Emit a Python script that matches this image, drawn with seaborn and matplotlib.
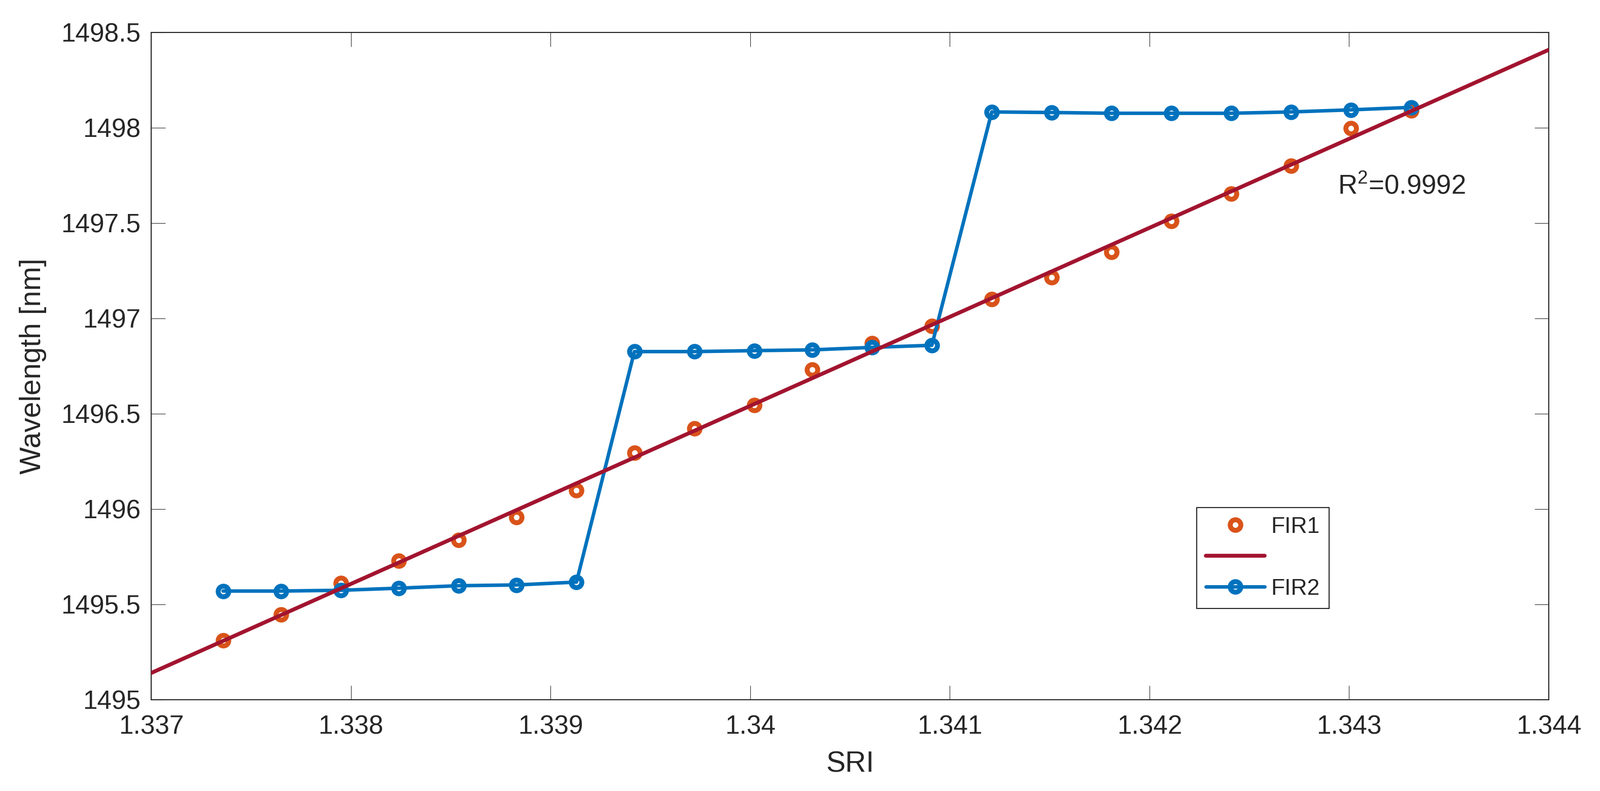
import numpy as np
import pandas as pd
import seaborn as sns
import matplotlib.pyplot as plt
from matplotlib.ticker import FormatStrFormatter, MultipleLocator

# values
sri = [1.33736, 1.33765, 1.33795, 1.33824, 1.33854, 1.33883, 1.33913,
       1.33942, 1.33972, 1.34002, 1.34031, 1.34061, 1.34091, 1.34121,
       1.34151, 1.34181, 1.34211, 1.34241, 1.34271, 1.34301, 1.34331]
fir1 = [1495.310, 1495.446, 1495.612, 1495.729, 1495.838, 1495.957, 1496.098,
        1496.294, 1496.423, 1496.544, 1496.731, 1496.869, 1496.959, 1497.101,
        1497.215, 1497.349, 1497.511, 1497.653, 1497.801, 1497.996, 1498.091]
fir2 = [1495.570, 1495.570, 1495.574, 1495.585, 1495.598, 1495.602, 1495.617,
        1496.826, 1496.826, 1496.831, 1496.835, 1496.848, 1496.859, 1498.083,
        1498.080, 1498.076, 1498.076, 1498.076, 1498.083, 1498.094, 1498.107]
r2_label = 'R$^2$=0.9992'

orange = '#D95319'
blue = '#0072BD'
red = '#A2142F'
ink = '#262626'

sns.set_style('ticks')
plt.rcParams['font.family'] = ['Liberation Sans', 'DejaVu Sans']
plt.rcParams['mathtext.fontset'] = 'custom'
plt.rcParams['mathtext.rm'] = 'Liberation Sans'
plt.rcParams['mathtext.it'] = 'Liberation Sans:italic'

df = pd.DataFrame({'SRI': sri, 'FIR1': fir1, 'FIR2': fir2})

fig = plt.figure(figsize=(31.54, 15.6), dpi=100)
ax = fig.add_axes([0.0945, 0.1154, 0.8735, 0.8436])
ax.set_xlim(1.337, 1.344)
ax.set_ylim(1495, 1498.5)

sns.lineplot(data=df, x='SRI', y='FIR1', ax=ax, color=orange, linestyle='none',
             marker='o', markersize=15, markerfacecolor='none',
             markeredgecolor=orange, markeredgewidth=7, zorder=2)
sns.lineplot(data=df, x='SRI', y='FIR2', ax=ax, color=blue, linewidth=5,
             marker='o', markersize=15, markerfacecolor='none',
             markeredgecolor=blue, markeredgewidth=7, zorder=3)
# linear fit of FIR1, stretched over the whole x range
sns.regplot(data=df, x='SRI', y='FIR1', ax=ax, scatter=False, ci=None,
            truncate=False, line_kws=dict(color=red, linewidth=5.5, zorder=4))

ax.set_xlim(1.337, 1.344)
ax.set_ylim(1495, 1498.5)
ax.xaxis.set_major_locator(MultipleLocator(0.001))
ax.yaxis.set_major_locator(MultipleLocator(0.5))
ax.xaxis.set_major_formatter(FormatStrFormatter('%g'))
ax.yaxis.set_major_formatter(FormatStrFormatter('%g'))
ax.tick_params(direction='in', length=20, width=0.8, color=ink, labelcolor=ink,
               labelsize=37, top=True, right=True)
ax.tick_params(axis='x', pad=21)
ax.tick_params(axis='y', pad=15)
for sp in ax.spines.values():
    sp.set_linewidth(1.5)
    sp.set_color(ink)

ax.set_xlabel('SRI', fontsize=41, color=ink, labelpad=16)
ax.set_ylabel('Wavelength [nm]', fontsize=41, color=ink, labelpad=20)

ax.text(1.342943, 1497.652, r2_label, fontsize=38, ha='left', va='baseline')

lines = ax.get_lines()
handles = [lines[0], lines[2], lines[1]]
leg = ax.legend(handles, ['FIR1', '', 'FIR2'], loc='upper left',
                bbox_to_anchor=(0.748, 0.3583), bbox_transform=fig.transFigure,
                borderaxespad=0, fontsize=32, frameon=True, fancybox=False,
                framealpha=1, edgecolor=ink, handlelength=2.6,
                handletextpad=0.3, labelspacing=0.45, borderpad=0.4)
leg.get_frame().set_linewidth(1.5)

fig.savefig('out.png', dpi=100)
